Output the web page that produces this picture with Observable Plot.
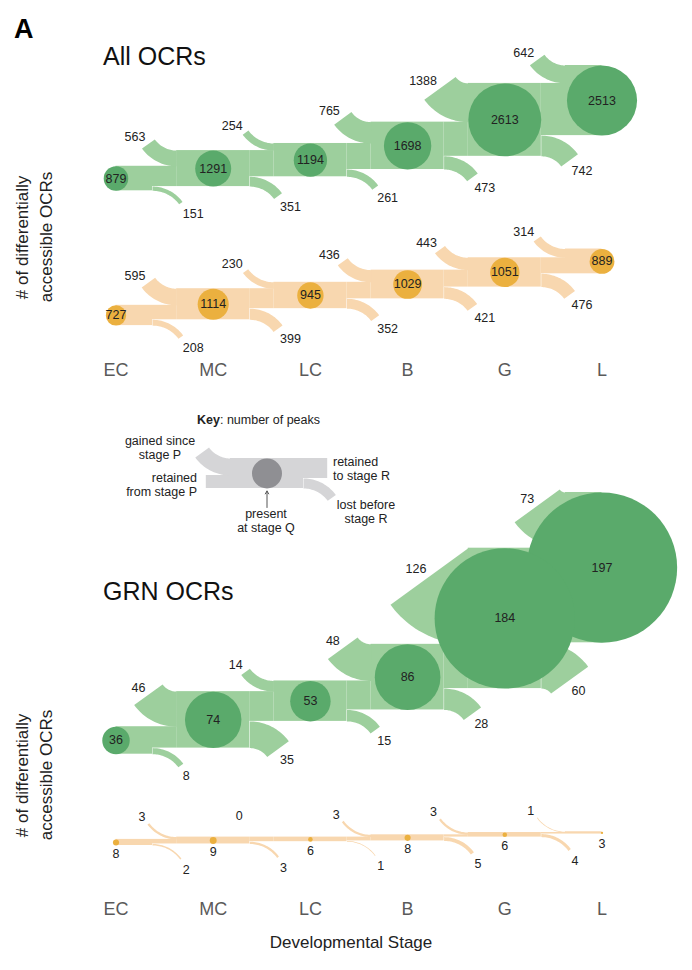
<!DOCTYPE html>
<html><head><meta charset="utf-8">
<script src="https://cdn.jsdelivr.net/npm/d3@7"></script>
<script src="https://cdn.jsdelivr.net/npm/@observablehq/plot@0.6"></script>
<style>
body{margin:0;background:#fff;}
#root{position:relative;width:692px;height:970px;font-family:"Liberation Sans",Arial,sans-serif;color:#222;overflow:hidden;background:#fff}
#root svg{position:absolute;left:0}
.t{position:absolute;white-space:nowrap}
.v{position:absolute;white-space:nowrap;writing-mode:vertical-rl;text-align:center}
</style></head><body><div id="root"></div>
<script>
// ---------------- data ----------------
const stages = ["EC", "MC", "LC", "B", "G", "L"];
// All OCRs, increasing accessibility (green)
const allUpPresent = [879, 1291, 1194, 1698, 2613, 2513];
const allUpGained  = [563, 254, 765, 1388, 642];   // gained at MC..L
const allUpLost    = [151, 351, 261, 473, 742];    // lost after EC..G
// All OCRs, decreasing accessibility (orange)
const allDownPresent = [727, 1114, 945, 1029, 1051, 889];
const allDownGained  = [595, 230, 436, 443, 314];
const allDownLost    = [208, 399, 352, 421, 476];
// GRN OCRs (green)
const grnUpPresent = [36, 74, 53, 86, 184, 197];
const grnUpGained  = [46, 14, 48, 126, 73];
const grnUpLost    = [8, 35, 15, 28, 60];
// GRN OCRs (orange)
const grnDownPresent = [8, 9, 6, 8, 6, 3];
const grnDownGained  = [3, 0, 3, 3, 1];
const grnDownLost    = [2, 3, 1, 5, 4];
// Key schematic (stage P -> Q -> R)
const keyGained = 17, keyRetainedFrom = 13, keyLost = 10;

// ---------------- geometry / style ----------------
const SP = 97.2, X0 = 115.5, HW = 36.5 / SP, RMIN = 35, THETA = 54 * Math.PI / 180, N = 24;
const C = {
  greenBand: "#9dcf9d", greenDot: "#5aaa6b",
  orangeBand: "#f8d7af", orangeDot: "#ebb03f",
  grayBand: "#d5d5d7", grayDot: "#8f8f93", text: "#222"
};
const root = document.getElementById("root");

function ribbon(pts, labels, id, x0, yc, v, k, s) {
  const w = v * k, Rc = Math.max(RMIN, w / 2), ro = Rc + w / 2, ri = Math.max(0, Rc - w / 2);
  const P = (rho, phi) => ({id, x: x0 + s * rho * Math.sin(phi) / SP, y: yc - s * (Rc - rho * Math.cos(phi)) / k});
  if (v > 0) {
    for (let t = 0; t <= N; t++) pts.push(P(ro, THETA * t / N));
    for (let t = N; t >= 0; t--) pts.push(P(ri, THETA * t / N));
  }
  const e = P(Rc, THETA);
  if (labels) labels.push({x: e.x, y: e.y, t: String(v)});
}

function place(svg, top) {
  svg.style.top = top + "px";
  root.appendChild(svg);
}

function flowPanel({present, gained, lost, base, k, band, dot, top, height, below = false, axisAt = null}) {
  const n = present.length;
  const b = [0];
  for (let i = 1; i < n; i++) b.push(b[i - 1] + lost[i - 1]);
  const tops = present.map((p, i) => b[i] + p);
  const rects = [];
  present.forEach((p, i) => rects.push({x1: i === 0 ? 0 : i - HW, x2: i === n - 1 ? i : i + HW, y1: b[i], y2: tops[i]}));
  for (let i = 0; i < n - 1; i++) rects.push({x1: i + HW, x2: i + 1 - HW, y1: b[i + 1], y2: b[i + 1] + present[i] - lost[i]});
  const rib = [], gl = [], ll = [];
  gained.forEach((g, j) => ribbon(rib, gl, "g" + j, j + 1 - HW, tops[j + 1] - g / 2, g, k, -1));
  lost.forEach((l, q) => ribbon(rib, ll, "l" + q, q + HW, b[q] + l / 2, l, k, +1));
  const dots = present.map((v, i) => ({i, v, c: b[i] + v / 2}));
  const marks = [
    Plot.rect(rects, {x1: "x1", x2: "x2", y1: "y1", y2: "y2", fill: band}),
    Plot.line(rib, {x: "x", y: "y", z: "id", fill: band, stroke: "none", curve: "linear"}),
    Plot.dot(dots, {x: "i", y: "c", r: "v", fill: dot, stroke: "none"}),
    Plot.text(dots, {x: "i", y: "c", text: d => String(d.v), fill: C.text, fontSize: 12.5, dy: below ? 11.5 : 0}),
    Plot.text(gl, {x: "x", y: "y", text: "t", textAnchor: "end", dx: -3, dy: -7, fill: C.text, fontSize: 12.5}),
    Plot.text(ll, {x: "x", y: "y", text: "t", textAnchor: "start", dx: 2, dy: 10.5, fill: C.text, fontSize: 12.5})
  ];
  if (axisAt != null) marks.push(Plot.axisX({ticks: d3.range(n), tickFormat: i => stages[i], tickSize: 0, tickPadding: 3, label: null, fontSize: 18}));
  const svg = Plot.plot({
    width: 692, height, margin: 0, marginBottom: axisAt != null ? height - (axisAt - top) : 0,
    x: {type: "linear", domain: [0, n - 1], range: [X0, X0 + (n - 1) * SP], axis: null},
    y: {type: "linear", domain: [0, 1000], range: [base - top, base - top - 1000 * k], axis: null},
    r: {type: "linear", domain: [0, 1], range: [0, k / 2]},
    style: {background: "transparent", overflow: "visible", color: "#5a5a5a", fontSize: "18px", fontFamily: "Liberation Sans, Arial, sans-serif"},
    marks
  });
  place(svg, top);
}

flowPanel({present: allUpPresent, gained: allUpGained, lost: allUpLost, base: 190.3, k: 0.0279, band: C.greenBand, dot: C.greenDot, top: 30, height: 195});
flowPanel({present: allDownPresent, gained: allDownGained, lost: allDownLost, base: 325.1, k: 0.0279, band: C.orangeBand, dot: C.orangeDot, top: 225, height: 160, axisAt: 360});
flowPanel({present: grnUpPresent, gained: grnUpGained, lost: grnUpLost, base: 753.7, k: 0.763, band: C.greenBand, dot: C.greenDot, top: 470, height: 315});
flowPanel({present: grnDownPresent, gained: grnDownGained, lost: grnDownLost, base: 845, k: 0.763, band: C.orangeBand, dot: C.orangeDot, below: true, top: 795, height: 130, axisAt: 899});

// ---------------- key ----------------
(function keyPanel() {
  const k = 1, present = keyGained + keyRetainedFrom, retainedTo = present - keyLost;
  const top = 435, height = 75;
  const rects = [
    {x1: 1 - HW, x2: 1 + HW, y1: 0, y2: present},
    {x1: HW, x2: 1 - HW, y1: 0, y2: keyRetainedFrom},
    {x1: 1 + HW, x2: 2 - HW, y1: keyLost, y2: keyLost + retainedTo}
  ];
  const rib = [];
  ribbon(rib, null, "g", 1 - HW, present - keyGained / 2, keyGained, k, -1);
  ribbon(rib, null, "l", 1 + HW, keyLost / 2, keyLost, k, +1);
  const svg = Plot.plot({
    width: 692, height, margin: 0,
    x: {type: "linear", domain: [0, 2], range: [266.5 - SP, 266.5 + SP], axis: null},
    y: {type: "linear", domain: [0, present], range: [488 - top, 488 - top - present * k], axis: null},
    r: {type: "linear", domain: [0, 1], range: [0, k / 2]},
    style: {background: "transparent", overflow: "visible"},
    marks: [
      Plot.rect(rects, {x1: "x1", x2: "x2", y1: "y1", y2: "y2", fill: C.grayBand}),
      Plot.line(rib, {x: "x", y: "y", z: "id", fill: C.grayBand, stroke: "none"}),
      Plot.dot([{x: 1, y: present / 2, v: present}], {x: "x", y: "y", r: "v", fill: C.grayDot, stroke: "none"}),
      Plot.arrow([{x: 1, y1: -19, y2: -2.5}], {x: "x", y1: "y1", y2: "y2", stroke: "#555", strokeWidth: 1, headLength: 5})
    ]
  });
  place(svg, top);
})();

// ---------------- text ----------------
function label(html, x, y, o = {}) {
  const {size = 12.5, anchor = "start", weight = "normal", color = "#222", lh = 1.1} = o;
  const d = document.createElement("div");
  d.className = "t";
  d.innerHTML = html;
  d.style.left = x + "px"; d.style.top = y + "px";
  d.style.fontSize = size + "px"; d.style.fontWeight = weight; d.style.color = color;
  d.style.lineHeight = typeof lh === "number" ? String(lh) : lh;
  const tx = anchor === "start" ? "0" : anchor === "middle" ? "-50%" : "-100%";
  d.style.textAlign = anchor === "start" ? "left" : anchor === "middle" ? "center" : "right";
  d.style.transform = `translate(${tx},-50%)`;
  root.appendChild(d);
}
function vlabel(html, x, y, size) {
  const d = document.createElement("div");
  d.className = "v";
  d.innerHTML = html;
  d.style.left = x + "px"; d.style.top = y + "px";
  d.style.fontSize = size + "px"; d.style.lineHeight = "24px"; d.style.color = "#222";
  d.style.transform = "translate(-50%,-50%) rotate(180deg)";
  root.appendChild(d);
}
label("A", 14, 30, {size: 27, weight: "bold", color: "#000"});
label("All OCRs", 103, 57, {size: 25, color: "#111"});
label("GRN OCRs", 103, 592, {size: 25, color: "#111"});
vlabel("# of differentially<br>accessible OCRs", 35, 237, 17);
vlabel("# of differentially<br>accessible OCRs", 35, 775, 17);
label("Developmental Stage", 351, 943, {size: 17, anchor: "middle"});
label("<b>Key</b>: number of peaks", 197, 421, {size: 12.5});
label("gained since<br>stage P", 160, 448, {size: 12.5, anchor: "middle", lh: "13.5px"});
label("retained<br>from stage P", 197, 485, {size: 12.5, anchor: "end", lh: "13.5px"});
label("retained<br>to stage R", 333, 469, {size: 12.5, anchor: "start", lh: "13.5px"});
label("lost before<br>stage R", 366, 512, {size: 12.5, anchor: "middle", lh: "13.5px"});
label("present<br>at stage Q", 266, 521, {size: 12.5, anchor: "middle", lh: "13.5px"});
</script></body></html>
